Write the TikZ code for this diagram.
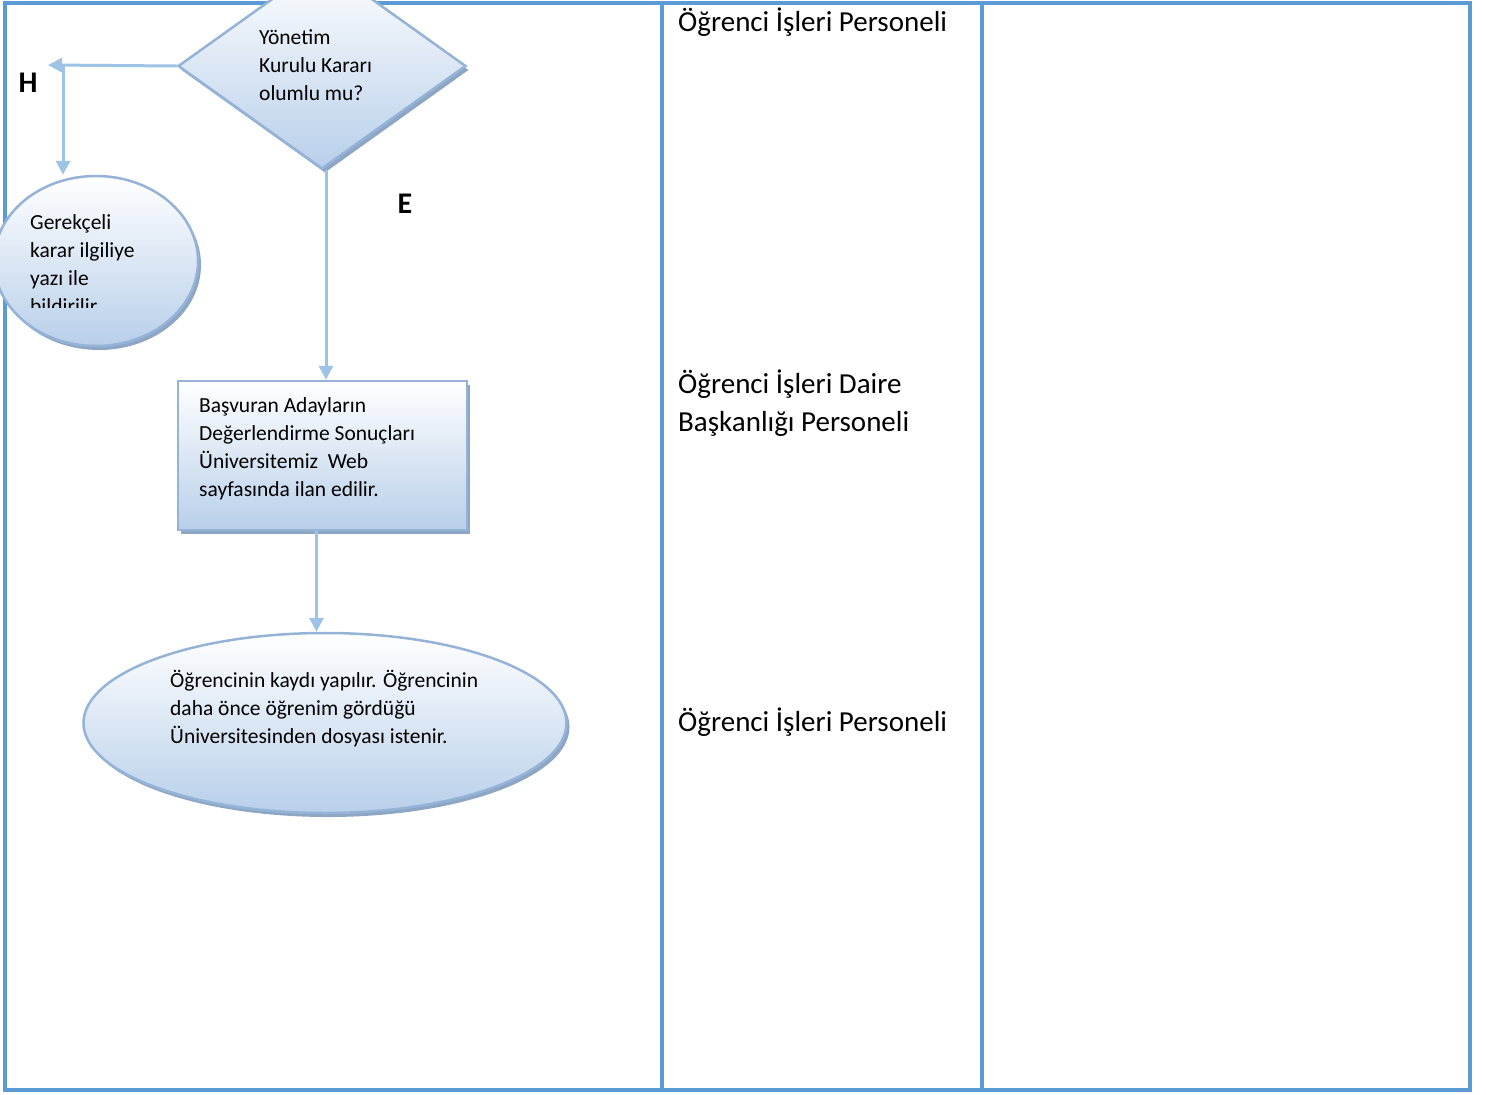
\documentclass[tikz,border=0pt]{standalone}
\usepackage{fontspec}
\setmainfont{Carlito}
\usetikzlibrary{arrows.meta,shapes.geometric,shadows}
\definecolor{tbl}{HTML}{5B9BD5}
\definecolor{arr}{HTML}{9DC3E6}
\definecolor{shp}{HTML}{95B3D7}
\definecolor{fillb}{HTML}{B8CFEA}
\definecolor{shad}{HTML}{8DA6C4}
\tikzset{
  flowshape/.style={draw=shp, line width=2.5pt, top color=white, bottom color=fillb,
    drop shadow={shadow xshift=3pt, shadow yshift=-4pt, fill=shad, opacity=1}},
  smalltext/.style={font=\fontsize{21.5}{28}\selectfont, align=left, inner sep=0pt, anchor=west},
  lanetext/.style={font=\fontsize{29}{38}\selectfont, align=left, inner sep=0pt, anchor=west},
  labeltext/.style={font=\fontsize{30}{32}\selectfont\bfseries, inner sep=0pt},
  conn/.style={draw=arr, line width=3pt, -{Triangle[width=14pt,length=14pt]}},
  tblline/.style={draw=tbl, line width=3.5pt}
}
\begin{document}
\begin{tikzpicture}[x=1pt,y=-1pt]
\useasboundingbox (0,0) rectangle (1486,1095);
\clip (0,0) rectangle (1486,1095);
% table
\draw[tblline] (5,3) rectangle (1470,1090);
\draw[tblline] (662,3) -- (662,1090);
\draw[tblline] (982,3) -- (982,1090);
% lane texts
\node[lanetext] (l1) at (678,22) {Öğrenci İşleri Personeli};
\node[lanetext] (l2) at (678,403) {Öğrenci İşleri Daire\\Başkanlığı Personeli};
\node[lanetext] (l3) at (678,722) {Öğrenci İşleri Personeli};
% diamond
\node[flowshape, diamond, minimum width=288pt, minimum height=206pt, inner sep=0pt] (dec) at (322,66) {};
\node[smalltext] (dect) at (259,65) {Yönetim\\Kurulu Kararı\\olumlu mu?};
% left ellipse
\node[flowshape, ellipse, minimum width=204pt, minimum height=170pt, inner sep=0pt] (ell1) at (96,261) {};
\begin{scope}
\clip (0,150) rectangle (200,307.5);
\node[smalltext] (ell1t) at (30,264.5) {Gerekçeli\\karar ilgiliye\\yazı ile\\bildirilir};
\end{scope}
% rectangle
\node[flowshape, rectangle, minimum width=289pt, minimum height=149pt, inner sep=0pt] (rect) at (322.5,455.5) {};
\node[smalltext] (rectt) at (199,449) {Başvuran Adayların\\Değerlendirme Sonuçları\\Üniversitemiz\ \ Web\\sayfasında ilan edilir.};
% bottom ellipse
\node[flowshape, ellipse, minimum width=483pt, minimum height=180pt, inner sep=0pt] (ell2) at (325,723) {};
\node[smalltext] (ell2t) at (170,709) {Öğrencinin kaydı yapılır. Öğrencinin\\daha önce öğrenim gördüğü\\Üniversitesinden dosyası istenir.};
% labels
\node[labeltext] (H) at (28,83) {H};
\node[labeltext] (E) at (405,204) {E};
% connectors
\coordinate (hTip) at (48,65);
\coordinate (hTurn) at (63,65);
\draw[conn] (dec.west) -- (hTip);
\draw[conn] (hTurn) -- (hTurn |- ell1.north);
\draw[conn] ([xshift=4pt]dec.south) -- ([xshift=4pt]dec.south |- rect.north);
\draw[conn] ([xshift=-6pt]rect.south) -- ([xshift=-6pt]rect.south |- ell2.north);
\end{tikzpicture}
\end{document}
